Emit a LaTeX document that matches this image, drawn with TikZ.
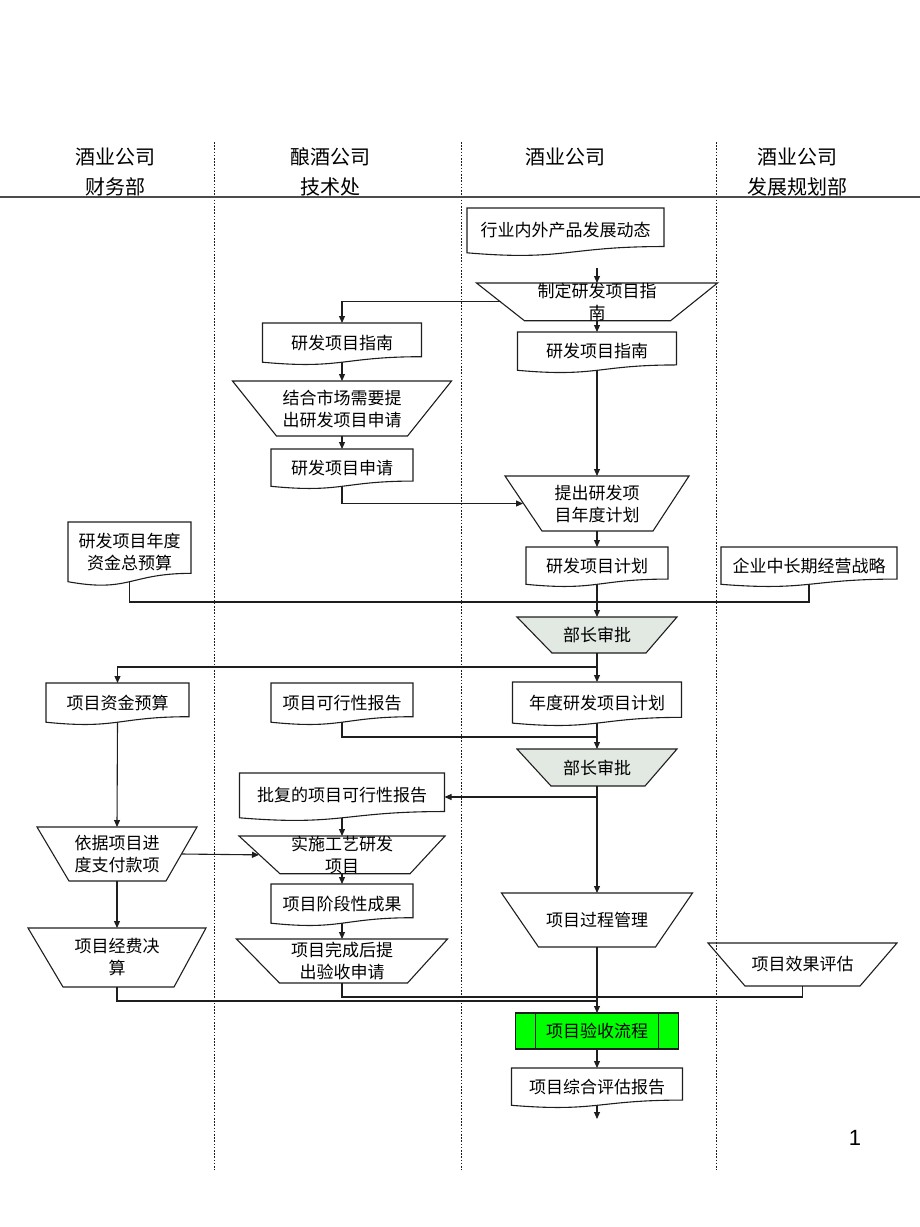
\documentclass[tikz,border=0pt]{standalone}
\usepackage{fontspec}
\setmainfont{Noto Sans CJK SC}
\newfontfamily\latinsans{Liberation Sans}
\usetikzlibrary{arrows.meta,calc,backgrounds}
\definecolor{apgray}{RGB}{226,232,226}
\definecolor{apgreen}{RGB}{0,255,0}
\definecolor{inkc}{RGB}{30,30,30}
\tikzset{
  every node/.style={inner sep=0pt, outer sep=0pt, align=center, font=\fontsize{17}{22}\selectfont},
  box/.style={rectangle, draw=none, anchor=north},
  head/.style={font=\fontsize{20}{30}\selectfont},
  ln/.style={line width=1.1pt, draw=inkc},
  arr/.style={ln, -{Triangle[length=7pt,width=6pt]}},
  lane/.style={line width=0.8pt, draw=inkc, dash pattern=on 1.6pt off 1.6pt},
  shapeline/.style={line width=1.1pt, draw=inkc},
  procbox/.style={rectangle, anchor=north, draw=inkc, line width=1.1pt, fill=apgreen},
}
\begin{document}
\begin{tikzpicture}[x=1pt,y=-1pt]
\useasboundingbox (0,0) rectangle (920,1227);

% lanes and header
\begin{scope}[on background layer]
  \draw[lane] (214,142) -- (214,1170);
  \draw[lane] (461,142) -- (461,1170);
  \draw[lane] (716,142) -- (716,1170);
  \draw[line width=1.8pt, draw=black!70] (0,197) -- (920,197);
\end{scope}

\node[head] (h1) at (115,172) {酒业公司\\财务部};
\node[head] (h2) at (330,172) {酿酒公司\\技术处};
\node[head] (h3) at (565,157) {酒业公司};
\node[head] (h4) at (797,172) {酒业公司\\发展规划部};

% document nodes
\node[box, minimum width=197, minimum height=44.8] (d1) at (565.5,208) {行业内外产品发展动态};
\node[box, minimum width=159, minimum height=38.3] (d2) at (597,332) {研发项目指南};
\node[box, minimum width=159, minimum height=39.2] (d3) at (342,323) {研发项目指南};
\node[box, minimum width=142, minimum height=37.3] (d4) at (342,449) {研发项目申请};
\node[box, minimum width=142, minimum height=37.3] (d5) at (597,547) {研发项目计划};
\node[box, minimum width=176, minimum height=37.3] (d6) at (809,547) {企业中长期经营战略};
\node[box, minimum width=123, minimum height=59.7] (d7) at (129.5,522) {研发项目年度\\资金总预算};
\node[box, minimum width=143, minimum height=39.2] (d8) at (117.5,683) {项目资金预算};
\node[box, minimum width=142, minimum height=39.2] (d9) at (342,683) {项目可行性报告};
\node[box, minimum width=169, minimum height=41.1] (d10) at (597,682) {年度研发项目计划};
\node[box, minimum width=205, minimum height=44.8] (d11) at (342,773) {批复的项目可行性报告};
\node[box, minimum width=142, minimum height=39.2] (d12) at (342,884) {项目阶段性成果};
\node[box, minimum width=171, minimum height=37.3] (d13) at (597,1068) {项目综合评估报告};

% trapezoid nodes
\node[box, minimum width=241, minimum height=34] (t1) at (597,283) {制定研发项目指\\南};
\node[box, minimum width=219, minimum height=55] (t2) at (342,381) {结合市场需要提\\出研发项目申请};
\node[box, minimum width=184, minimum height=55] (t3) at (597,476) {提出研发项\\目年度计划};
\node[box, minimum width=160, minimum height=36] (t4) at (597,617) {部长审批};
\node[box, minimum width=160, minimum height=37] (t5) at (597,749) {部长审批};
\node[box, minimum width=160, minimum height=54] (t6) at (117,827) {依据项目进\\度支付款项};
\node[box, minimum width=206, minimum height=35] (t7) at (342,836) {实施工艺研发\\项目};
\node[box, minimum width=211, minimum height=44] (t8) at (342,939) {项目完成后提\\出验收申请};
\node[box, minimum width=178, minimum height=59] (t9) at (117,928) {项目经费决\\算};
\node[box, minimum width=191, minimum height=54] (t10) at (597,893) {项目过程管理};
\node[box, minimum width=189, minimum height=43] (t11) at (802.5,943) {项目效果评估};

% predefined process
\node[procbox, minimum width=163, minimum height=36] (p1) at (597,1013) {项目验收流程};
\draw[ln] ($(p1.north west)+(20,0)$) -- ($(p1.south west)+(20,0)$);
\draw[ln] ($(p1.north east)+(-20,0)$) -- ($(p1.south east)+(-20,0)$);

% page number
\node[font=\latinsans\fontsize{22}{26}\selectfont] (pg) at (855,1138) {1};

% outlines
\begin{scope}[on background layer]
  \foreach \nm in {d1,d2,d3,d4,d5,d6,d7,d8,d9,d10,d11,d12,d13}
    \draw[shapeline] (\nm.north west) -- (\nm.north east)
      -- ($(\nm.north east)!0.86!(\nm.south east)$)
      .. controls ($(\nm.north)!0.86!(\nm.south)$) and ($(\nm.north)!1.187!(\nm.south)$) .. (\nm.south west) -- cycle;
  \foreach \nm/\lft/\rgt/\fc in {t1/48/47/none, t2/44/44/none, t3/37/36/none, t4/35/31/apgray, t5/34/32/apgray,
      t6/32/31/none, t7/41/35/none, t8/43/40/none, t9/35/32/none, t10/37/37/none, t11/37/37/none}
    \draw[shapeline, fill=\fc] (\nm.north west) -- (\nm.north east)
      -- ($(\nm.south east)+(-\rgt,0)$) -- ($(\nm.south west)+(\lft,0)$) -- cycle;
\end{scope}

% junction coordinates
\coordinate (a1) at (597,268);
\coordinate (j1) at (597,602);
\coordinate (j2) at (597,667);
\coordinate (j3) at (597,737);
\coordinate (j4) at (597,797);
\coordinate (j5) at (597,997);
\coordinate (j6) at (597,1001);
\coordinate (endpt) at (597,1119);

% connectors
\draw[arr] (a1) -- (t1.north);
\draw[arr] ($(t1.west)+(24,0)$) -| (d3.north);
\draw[arr] (t1.south) -- (d2.north);
\draw[arr] (d3.south) -- (t2.north);
\draw[arr] (t2.south) -- (d4.north);
\draw[arr] (d4.south) |- ($(t3.west)+(18,0)$);
\draw[arr] (d2.south) -- (t3.north);
\draw[arr] (t3.south) -- (d5.north);
\draw[ln] (d7.south) |- (j1);
\draw[ln] (d6.south) |- (j1);
\draw[arr] (d5.south) -- (t4.north);
\draw[arr] (t4.south) -- (d10.north);
\draw[arr] (j2) -| (d8.north);
\draw[ln] (d9.south) |- (j3);
\draw[arr] (d10.south) -- (t5.north);
\draw[arr] (t5.south) -- (t10.north);
\draw[arr] (j4) -- (j4 -| d11.east);
\draw[arr] (d8.south) -- (t6.north);
\draw[arr] ($(t6.east)+(-15,0)$) -- ($(t7.west)+(20,0)$);
\draw[arr] (d11.south) -- (t7.north);
\draw[arr] (t7.south) -- (d12.north);
\draw[arr] (d12.south) -- (t8.north);
\draw[arr] (t6.south) -- (t9.north);
\draw[ln] (t9.south) |- (j6);
\draw[ln] (t8.south) |- (j5);
\draw[ln] (t11.south) |- (j5);
\draw[arr] (t10.south) -- (p1.north);
\draw[arr] (p1.south) -- (d13.north);
\draw[arr] (d13.south) -- (endpt);
\end{tikzpicture}
\end{document}
